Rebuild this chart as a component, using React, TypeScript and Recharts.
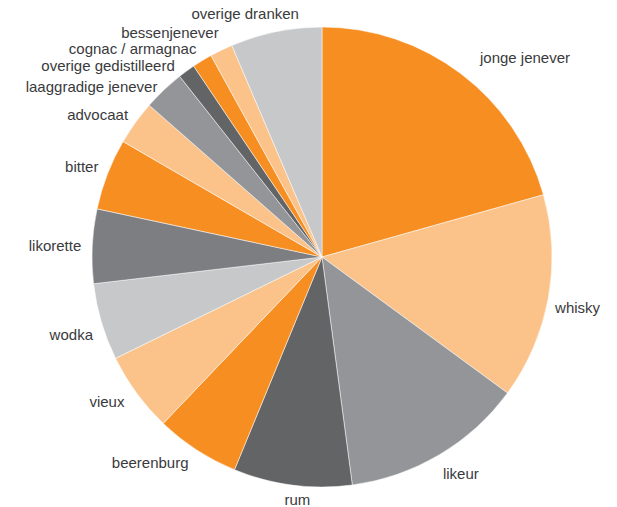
import { PieChart, Pie, Cell } from 'recharts'

const categories = [
  'jonge jenever',
  'whisky',
  'likeur',
  'rum',
  'beerenburg',
  'vieux',
  'wodka',
  'likorette',
  'bitter',
  'advocaat',
  'laaggradige jenever',
  'overige gedistilleerd',
  'cognac / armagnac',
  'bessenjenever',
  'overige dranken',
]

const shares = [20.6, 14.4, 12.8, 8.3, 5.9, 5.6, 5.4, 5.2, 5.0, 3.1, 2.9, 1.2, 1.4, 1.6, 6.4]

const sliceColors = [
  '#f68e22',
  '#fbc38a',
  '#939598',
  '#636466',
  '#f68e22',
  '#fbc38a',
  '#c7c8ca',
  '#7d7e82',
  '#f68e22',
  '#fbc38a',
  '#939598',
  '#636466',
  '#f68e22',
  '#fbc38a',
  '#c7c8ca',
]

// small hand nudges so the crowded labels top-left don't collide
const labelNudge: Record<string, [number, number]> = {
  'jonge jenever': [10, -4],
  whisky: [-8, 7],
  likeur: [-4, 6],
  rum: [7, 0],
  wodka: [6, 8],
  likorette: [4, 0],
  bitter: [5, -2],
  advocaat: [5, 1],
  'laaggradige jenever': [4, 7],
  'overige gedistilleerd': [-3, 7],
  'cognac / armagnac': [2, 1],
  bessenjenever: [4, -4],
  'overige dranken': [26, -3],
}

const data = categories.map((name, i) => ({ name, value: shares[i] }))

const RADIAN = Math.PI / 180

function renderLabel(props: any) {
  const { cx, cy, midAngle, outerRadius, name } = props
  const r = outerRadius + 15
  const cos = Math.cos(-midAngle * RADIAN)
  const [dx, dy] = labelNudge[name] ?? [0, 0]
  const x = cx + r * cos + dx
  const y = cy + r * Math.sin(-midAngle * RADIAN) + dy
  const anchor = Math.abs(cos) < 0.15 ? 'middle' : cos > 0 ? 'start' : 'end'
  return (
    <text
      x={x}
      y={y}
      textAnchor={anchor}
      dominantBaseline="central"
      fill="#3a3a3c"
      fontSize={15}
      fontFamily="'Liberation Sans', Arial, sans-serif"
    >
      {name}
    </text>
  )
}

export default function App() {
  return (
    <div style={{ width: 617, height: 507, background: '#fff' }}>
      <style>{'body { margin: 0; }'}</style>
      <PieChart width={617} height={507} margin={{ top: 0, right: 0, bottom: 0, left: 0 }}>
        <Pie
          data={data}
          dataKey="value"
          nameKey="name"
          cx={322}
          cy={257}
          outerRadius={230}
          startAngle={90}
          endAngle={-270}
          stroke="#fff"
          strokeWidth={0.5}
          label={renderLabel}
          labelLine={false}
          isAnimationActive={false}
        >
          {data.map((d, i) => (
            <Cell key={d.name} fill={sliceColors[i]} />
          ))}
        </Pie>
      </PieChart>
    </div>
  )
}
